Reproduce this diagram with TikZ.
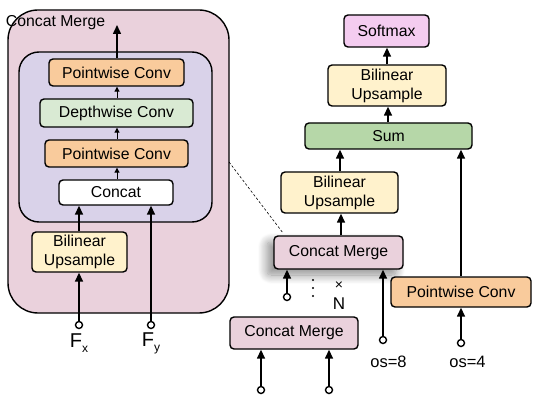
\documentclass[tikz,border=0pt]{standalone}
\usepackage{fontspec}
\setmainfont{Liberation Sans}
\usetikzlibrary{arrows.meta,shadows.blur}
\definecolor{cmpink}{HTML}{EAD1DC}
\definecolor{inpurple}{HTML}{D9D2E9}
\definecolor{pworange}{HTML}{F9CB9C}
\definecolor{dwgreen}{HTML}{D9EAD3}
\definecolor{bilyellow}{HTML}{FFF2CC}
\definecolor{sumgreen}{HTML}{B6D7A8}
\definecolor{smpink}{HTML}{F4CCF0}
\tikzset{
  box/.style={draw, line width=1.4pt, rounded corners=4pt, inner sep=0pt,
    font=\fontsize{15.8}{19}\selectfont, align=center},
  port/.style={circle, draw, line width=1.4pt, fill=white, minimum size=7pt, inner sep=0pt},
  bigarrow/.style={line width=1.5pt, -{Triangle[length=9pt,width=8pt]}},
  smallarrow/.style={line width=1pt, -{Triangle[length=5pt,width=5pt]}},
  lbl/.style={font=\fontsize{16.5}{19}\selectfont, inner sep=0pt},
}
\begin{document}
\begin{tikzpicture}[x=1pt,y=-1pt]
\useasboundingbox (0,0) rectangle (535,403);
% ---- left: expanded Concat Merge ----
\node[draw, line width=1.4pt, fill=cmpink, rounded corners=30pt, minimum width=221pt, minimum height=303pt, inner sep=0pt] (outer) at (118.5,161.5) {};
\node[draw, line width=1.4pt, fill=inpurple, rounded corners=20pt, minimum width=193pt, minimum height=170pt, inner sep=0pt] (inner) at (115.5,137) {};
\node[lbl, font=\fontsize{15.8}{19}\selectfont] (title) at (55.5,23) {Concat Merge};
\node[box, fill=pworange, minimum width=135pt, minimum height=27pt] (pw1) at (116.5,72.5) {Pointwise Conv};
\node[box, fill=dwgreen, minimum width=153pt, minimum height=28pt] (dw) at (116.5,113) {Depthwise Conv};
\node[box, fill=pworange, minimum width=143pt, minimum height=27pt] (pw2) at (116.5,153.5) {Pointwise Conv};
\node[box, fill=white, minimum width=114pt, minimum height=25pt] (cat) at (116,192.5) {Concat};
\node[box, fill=bilyellow, minimum width=95pt, minimum height=40pt] (bilL) at (79.5,252) {Bilinear\\Upsample};
\node[port] (fx) at (79,325) {};
\node[port] (fy) at (151,325) {};
\node[inner sep=0pt] (fxl) at (79,343) {{\fontsize{20}{20}\selectfont F}\raisebox{-5pt}{\fontsize{12}{12}\selectfont x}};
\node[inner sep=0pt] (fyl) at (151,343) {{\fontsize{20}{20}\selectfont F}\raisebox{-5pt}{\fontsize{12}{12}\selectfont y}};
\coordinate (outtop) at (117,25);
\draw[bigarrow] (pw1.north -| outtop) -- (outtop);
\draw[smallarrow] (dw.north -| outtop) -- (pw1.south -| outtop);
\draw[smallarrow] (pw2.north -| outtop) -- (dw.south -| outtop);
\draw[smallarrow] (cat.north -| outtop) -- (pw2.south -| outtop);
\draw[bigarrow] (fx.north) -- (fx |- bilL.south);
\draw[bigarrow] (fx |- bilL.north) -- (fx |- cat.south);
\draw[bigarrow] (fy.north) -- (fy |- cat.south);
% ---- right: decoder ----
\node[box, fill=smpink, minimum width=85pt, minimum height=32pt] (soft) at (386.5,31) {Softmax};
\node[box, fill=bilyellow, minimum width=118pt, minimum height=41pt] (bilT) at (387,85.5) {Bilinear\\Upsample};
\node[box, fill=sumgreen, minimum width=167pt, minimum height=26pt] (sum) at (388.5,136) {Sum};
\node[box, fill=bilyellow, minimum width=117pt, minimum height=41pt] (bilM) at (339.5,192.5) {Bilinear\\Upsample};
\node[box, fill=cmpink, minimum width=129pt, minimum height=33pt,
  blur shadow={shadow xshift=-7pt, shadow yshift=-6pt, shadow opacity=45, shadow blur steps=16, shadow blur radius=9pt, shadow blur extra rounding=4pt}] (cmM) at (338.5,252.5) {Concat Merge};
\node[box, fill=pworange, minimum width=140pt, minimum height=30pt] (pwR) at (461,292) {Pointwise Conv};
\node[box, fill=cmpink, minimum width=128pt, minimum height=32pt] (cmB) at (294,333) {Concat Merge};
\node[port] (pin) at (287,297) {};
\node[port] (p8) at (383,340) {};
\node[port] (p4) at (461,343) {};
\node[port] (pb1) at (261,390) {};
\node[port] (pb2) at (329,390) {};
\node[lbl] (os8) at (388.5,362) {os=8};
\node[lbl] (os4) at (467.5,362) {os=4};
\node[fill=black, circle, inner sep=0pt, minimum size=2.2pt] (d1) at (313,280) {};
\node[fill=black, circle, inner sep=0pt, minimum size=2.2pt] (d2) at (313,288) {};
\node[fill=black, circle, inner sep=0pt, minimum size=2.2pt] (d3) at (313,296) {};
\node[inner sep=0pt, font=\fontsize{14}{14}\selectfont] (times) at (339,286) {×};
\node[inner sep=0pt, font=\fontsize{17}{17}\selectfont] (nN) at (339,304) {N};
\coordinate (c1) at (387,0);
\coordinate (c2) at (388,0);
\coordinate (c3) at (340,0);
\coordinate (c4) at (461,0);
\coordinate (c5) at (341,0);
\draw[bigarrow] (c1 |- bilT.north) -- (c1 |- soft.south);
\draw[bigarrow] (c2 |- sum.north) -- (c2 |- bilT.south);
\draw[bigarrow] (c3 |- bilM.north) -- (c3 |- sum.south);
\draw[bigarrow] (c4 |- pwR.north) -- (c4 |- sum.south);
\draw[bigarrow] (p4.north) -- (p4 |- pwR.south);
\draw[bigarrow] (c5 |- cmM.north) -- (c5 |- bilM.south);
\draw[bigarrow] (pin.north) -- (pin |- cmM.south);
\draw[bigarrow] (p8.north) -- (p8 |- cmM.south);
\draw[bigarrow] (pb1.north) -- (pb1 |- cmB.south);
\draw[bigarrow] (pb2.north) -- (pb2 |- cmB.south);
% dashed link
\coordinate (dA) at (229,162);
\coordinate (dB) at (283,233);
\draw[dashed, line width=0.6pt, dash pattern=on 2.5pt off 2pt] (dA) -- (dB);
\end{tikzpicture}
\end{document}
